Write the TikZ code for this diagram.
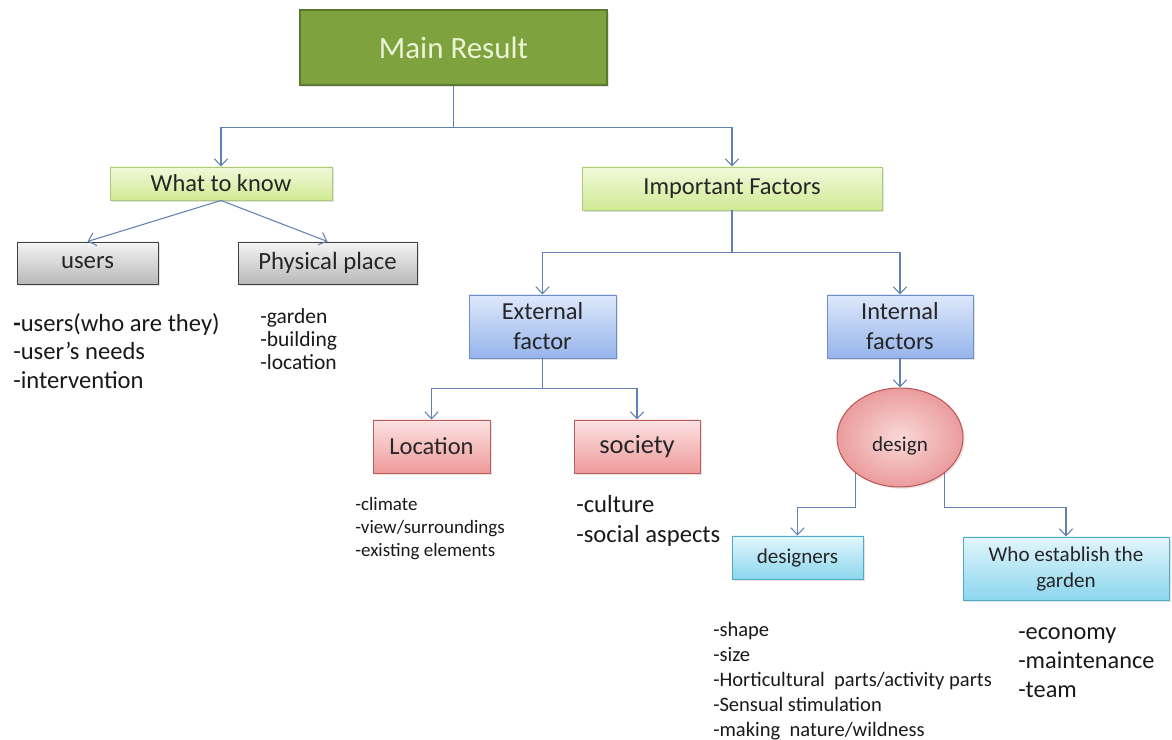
\documentclass[tikz,border=0pt]{standalone}
\usepackage{fontspec}
\setmainfont{Carlito}
\usepackage{xcolor}
\definecolor{resultgreen}{RGB}{126,162,62}
\definecolor{resultedge}{RGB}{92,120,46}
\definecolor{resulttext}{RGB}{236,244,214}
\definecolor{linkblue}{RGB}{96,130,178}
\usepackage{tikz}
\usetikzlibrary{arrows.meta}
\usetikzlibrary{shadows}
\usetikzlibrary{shapes.geometric}
\newcommand{\pxu}{0.025cm}
\tikzset{
    common/.style={draw, rectangle, align=center, text=black!85, line width=0.7pt,
        drop shadow={shadow xshift=1.2pt, shadow yshift=-1.2pt, opacity=0.22}},
    result/.style={common, fill=resultgreen, draw=resultedge, line width=2pt,
        text=resulttext, font=\fontsize{22}{26}\selectfont},
    topic/.style={common, top color={rgb,255:red,241;green,249;blue,218},
        bottom color={rgb,255:red,208;green,234;blue,148}, draw={rgb,255:red,172;green,202;blue,122},
        font=\fontsize{17.4}{21}\selectfont},
    subject/.style={common, top color={rgb,255:red,244;green,244;blue,244},
        bottom color={rgb,255:red,184;green,184;blue,184}, draw={rgb,255:red,64;green,64;blue,64},
        font=\fontsize{17.6}{21}\selectfont},
    factor/.style={common, top color={rgb,255:red,222;green,232;blue,251},
        bottom color={rgb,255:red,150;green,180;blue,235}, draw={rgb,255:red,110;green,140;blue,200},
        font=\fontsize{17.4}{21.3}\selectfont},
    context/.style={common, top color={rgb,255:red,252;green,226;blue,226},
        bottom color={rgb,255:red,238;green,154;blue,154}, draw={rgb,255:red,190;green,92;blue,92},
        font=\fontsize{17.4}{21}\selectfont},
    hub/.style={common, ellipse, inner color={rgb,255:red,250;green,216;blue,216},
        outer color={rgb,255:red,234;green,156;blue,156}, draw={rgb,255:red,190;green,80;blue,80},
        font=\fontsize{15}{18}\selectfont},
    actor/.style={common, top color={rgb,255:red,226;green,246;blue,252},
        bottom color={rgb,255:red,140;green,214;blue,238}, draw={rgb,255:red,80;green,170;blue,200},
        font=\fontsize{15}{18.5}\selectfont},
    conn/.style={->, draw=linkblue, line width=0.75pt},
    notes/.style={anchor=north west, align=left, inner sep=0pt, text=black!90}
}
\begin{document}
\begin{tikzpicture}[x=\pxu, y=-\pxu, >={Straight Barb[length=5pt, width=9.5pt]}]
  \useasboundingbox (0,0) rectangle (1172,740);

  % top of the tree
  \node[result, minimum width=307*\pxu, minimum height=75*\pxu] (main) at (453.5,47.5) {Main Result};
  \node[topic, minimum width=222*\pxu, minimum height=33*\pxu] (know) at (221,183.5) {What to know};
  \node[topic, minimum width=300*\pxu, minimum height=43*\pxu] (important) at (732,188.5) {Important Factors};

  % what to know
  \node[subject, minimum width=141*\pxu, minimum height=42*\pxu] (users) at (87.5,263) {users};
  \node[subject, minimum width=179*\pxu, minimum height=42*\pxu] (place) at (327.5,263) {Physical place};

  % important factors
  \node[factor, minimum width=147*\pxu, minimum height=63*\pxu] (external) at (542.5,326.5) {External\\factor};
  \node[factor, minimum width=146*\pxu, minimum height=63*\pxu] (internal) at (900,326.5) {Internal\\factors};
  \node[context, minimum width=117*\pxu, minimum height=53*\pxu] (location) at (431.5,446.5) {Location};
  \node[context, minimum width=126*\pxu, minimum height=53*\pxu, font=\fontsize{18.8}{22}\selectfont] (society) at (637,446.5) {society};
  \node[hub, minimum width=126*\pxu, minimum height=99*\pxu, inner sep=0pt, text height=24pt, text depth=4pt] (design) at (900,437.5) {design};
  \node[actor, minimum width=131*\pxu, minimum height=43*\pxu] (designers) at (797.5,557.5) {designers};
  \node[actor, minimum width=206*\pxu, minimum height=63*\pxu] (establish) at (1066,568.5) {Who establish the\\garden};

  % lists under the boxes
  \node[notes, font=\fontsize{17.5}{20.3}\selectfont] (users-notes) at (13,313) {\textbf{-}users(who are they)\\-user’s needs\\-intervention};
  \node[notes, font=\fontsize{15.3}{16.4}\selectfont] (place-notes) at (260,308) {-garden\\-building\\-location};
  \node[notes, font=\fontsize{13.5}{16.4}\selectfont] (location-notes) at (355,497) {-climate\\-view/surroundings\\-existing elements};
  \node[notes, font=\fontsize{17.5}{21.3}\selectfont] (society-notes) at (576,495) {-culture\\-social aspects};
  \node[notes, font=\fontsize{14.6}{17.8}\selectfont] (designers-notes) at (713,622) {-shape\\-size\\-Horticultural~ parts/activity parts\\-Sensual stimulation\\-making~ nature/wildness};
  \node[notes, font=\fontsize{17.3}{20.6}\selectfont] (establish-notes) at (1018,627) {-economy\\-maintenance\\-team};

  % connectors
  \draw[conn] (main.south) -- ++(0,41) -| (know.north);
  \draw[conn] (main.south) -- ++(0,41) -| (important.north);
  \draw[conn] (know.south) -- (users.north);
  \draw[conn] (know.south) -- (place.north);
  \draw[conn] (important.south) -- ++(0,42) -| (external.north);
  \draw[conn] (important.south) -- ++(0,42) -| (internal.north);
  \draw[conn] (external.south) -- ++(0,30) -| (location.north);
  \draw[conn] (external.south) -- ++(0,30) -| (society.north);
  \draw[conn] (internal.south) -- (design.north);
  \draw[conn] (design.south west) -- ++(0,35) -| (designers.north);
  \draw[conn] (design.south east) -- ++(0,35) -| (establish.north);
\end{tikzpicture}
\end{document}
